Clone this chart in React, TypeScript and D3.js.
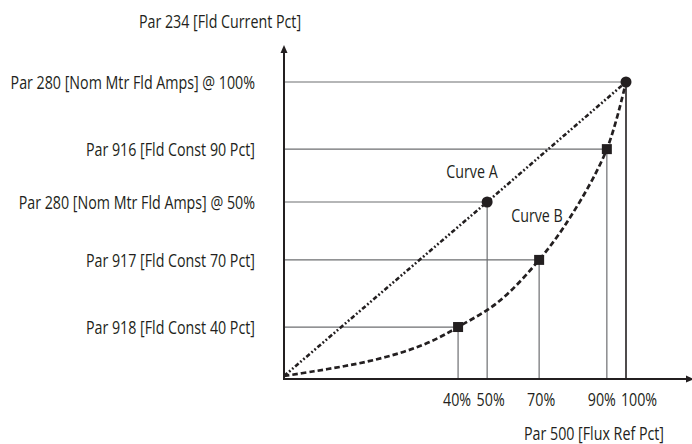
import React from "react";
import * as d3 from "d3";

// Schematic horizontal positions (flux ref pct axis, not to scale in original)
const xTickLabels = ["40%", "50%", "70%", "90%", "100%"];
const xTickPos = [50.9, 59.4, 74.6, 94.4, 100];
const xTickDx = [-1, 3.5, 2, -5, 13];

const yLabels = [
  "Par 280 [Nom Mtr Fld Amps] @ 100%",
  "Par 916 [Fld Const 90 Pct]",
  "Par 280 [Nom Mtr Fld Amps] @ 50%",
  "Par 917 [Fld Const 70 Pct]",
  "Par 918 [Fld Const 40 Pct]",
];
const yPos = [100, 77.4, 59.6, 40.1, 17.5];

// Curve A (linear) points: [x, y]
const curveA: [number, number][] = [
  [0, 1],
  [59.4, 59.6],
  [100, 100],
];
// Curve B points: [x, y]
const curveB: [number, number][] = [
  [0, 1],
  [8.8, 2.6],
  [17.5, 4.3],
  [26.3, 6.4],
  [35.1, 9.2],
  [42.9, 12.6],
  [50.9, 17.5],
  [62.7, 26.0],
  [74.6, 40.1],
  [84.1, 55.2],
  [94.4, 77.4],
  [100, 100],
];
const circlePts: [number, number][] = [
  [100, 100],
  [59.4, 59.6],
];
const squarePts: [number, number][] = [
  [94.4, 77.4],
  [74.6, 40.1],
  [50.9, 17.5],
];
// guide lines from each marker to the axes
const guidePts: [number, number][] = [
  [100, 100],
  [94.4, 77.4],
  [59.4, 59.6],
  [74.6, 40.1],
  [50.9, 17.5],
];

const W = 692;
const H = 444;
const FONT = "'Open Sans', 'Noto Sans', sans-serif";
const FS = 19;
const SX = 0.75;
const TXT = "#231f20";
const GRID = "#6d6e71";

function T(props: { x: number; y: number; anchor?: string; children: React.ReactNode }) {
  return (
    <text
      transform={`translate(${props.x},${props.y}) scale(${SX},1)`}
      dy="0.36em"
      textAnchor={props.anchor || "middle"}
      fontSize={FS}
      fill={TXT}
    >
      {props.children}
    </text>
  );
}

export default function App() {
  const x = d3.scaleLinear().domain([0, 100]).range([284, 626]);
  const y = d3.scaleLinear().domain([0, 100]).range([379, 82]);
  const x0 = x(0);
  const y0 = y(0);
  const lineA = d3
    .line<[number, number]>()
    .x((d) => x(d[0]))
    .y((d) => y(d[1]));
  const lineB = d3
    .line<[number, number]>()
    .x((d) => x(d[0]))
    .y((d) => y(d[1]))
    .curve(d3.curveCatmullRom.alpha(0.5));

  const yTop = 45;
  const xRight = 692;

  return (
    <svg
      width={W}
      height={H}
      style={{ position: "absolute", left: 0, top: 0, background: "#fff" }}
      fontFamily={FONT}
    >
      {/* guide lines */}
      {guidePts.map((p, i) => (
        <g key={"g" + i}>
          <line x1={x0} x2={x(p[0])} y1={y(p[1])} y2={y(p[1])} stroke={GRID} strokeWidth={1.2} />
          <line
            x1={x(p[0])}
            x2={x(p[0])}
            y1={y(p[1])}
            y2={y0}
            stroke={p[0] === 100 ? "#231f20" : GRID}
            strokeWidth={p[0] === 100 ? 1.6 : 1.2}
          />
        </g>
      ))}

      {/* axes */}
      <line x1={x0} x2={x0} y1={y0 + 1} y2={yTop + 6} stroke="#231f20" strokeWidth={2} />
      <path d={`M${x0 - 3.5},${yTop + 8} L${x0},${yTop} L${x0 + 3.5},${yTop + 8} Z`} fill="#231f20" />
      <line x1={x0 - 1} x2={xRight - 4} y1={y0} y2={y0} stroke="#231f20" strokeWidth={2} />
      <path d={`M${xRight - 6},${y0 - 3.5} L${xRight + 2},${y0} L${xRight - 6},${y0 + 3.5} Z`} fill="#231f20" />

      {/* curves */}
      <path
        d={lineA(curveA) || ""}
        fill="none"
        stroke="#231f20"
        strokeWidth={2.6}
        strokeDasharray="4.5 2.2 1.8 2.2 1.8 2.2"
      />
      <path
        d={lineB(curveB) || ""}
        fill="none"
        stroke="#231f20"
        strokeWidth={2.7}
        strokeDasharray="5.5 3"
      />

      {/* markers */}
      {circlePts.map((p, i) => (
        <circle key={"c" + i} cx={x(p[0])} cy={y(p[1])} r={5.5} fill="#231f20" />
      ))}
      {squarePts.map((p, i) => (
        <rect key={"s" + i} x={x(p[0]) - 5} y={y(p[1]) - 5} width={10} height={10} fill="#231f20" />
      ))}

      {/* y labels */}
      {yLabels.map((t, i) => (
        <T key={"yl" + i} x={255} y={y(yPos[i])} anchor="end">
          {t}
        </T>
      ))}

      {/* x tick labels */}
      {xTickLabels.map((t, i) => (
        <T key={"xl" + i} x={x(xTickPos[i]) + xTickDx[i]} y={399}>
          {t}
        </T>
      ))}

      {/* axis titles */}
      <T x={220} y={21}>Par 234 [Fld Current Pct]</T>
      <T x={594} y={433}>Par 500 [Flux Ref Pct]</T>

      {/* curve labels */}
      <T x={472} y={171}>Curve A</T>
      <T x={537} y={215.5}>Curve B</T>
    </svg>
  );
}
